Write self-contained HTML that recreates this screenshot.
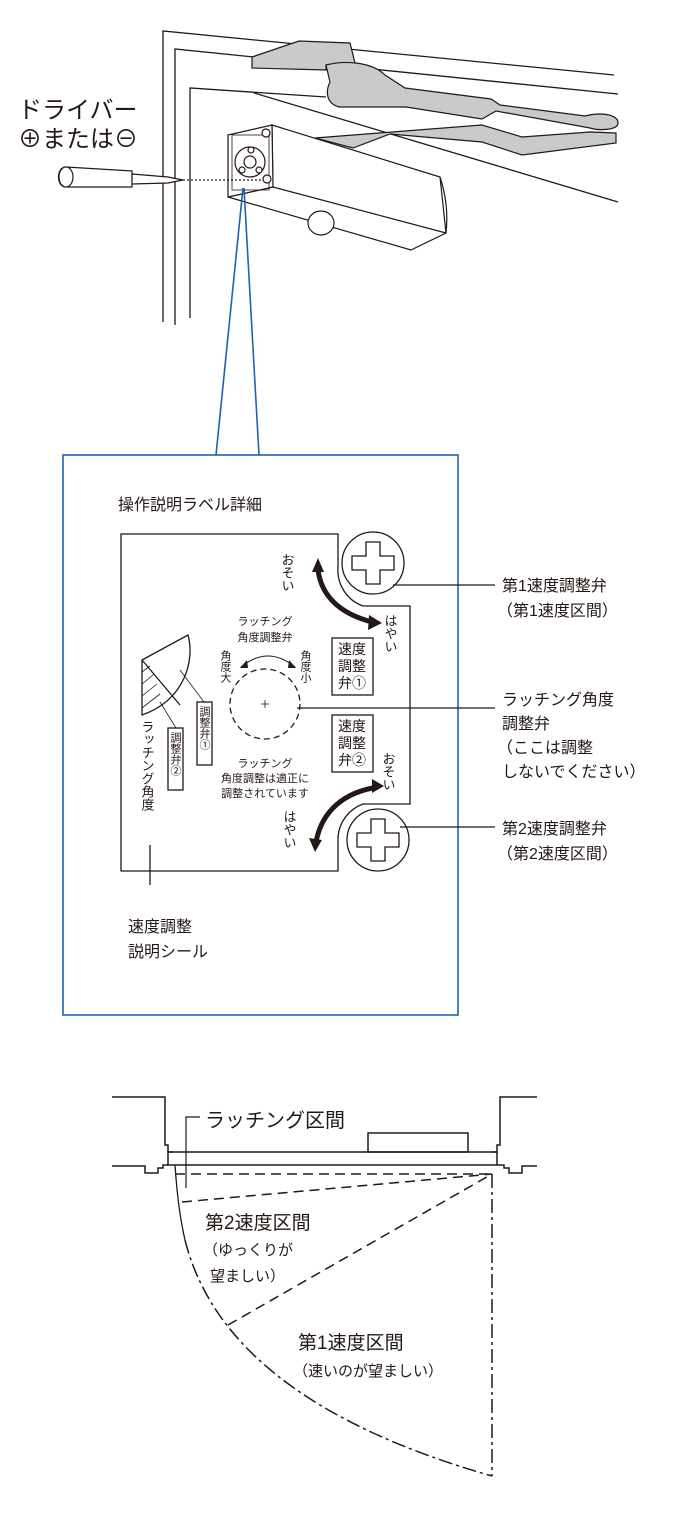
<!DOCTYPE html>
<html><head><meta charset="utf-8"><style>
html,body{margin:0;padding:0;background:#fff}
svg{display:block}
text{font-family:"Liberation Sans","Noto Sans CJK JP",sans-serif;fill:#231815}
</style></head><body>
<svg width="700" height="1529" viewBox="0 0 700 1529" xmlns="http://www.w3.org/2000/svg">
<g fill="none" stroke="#231815" stroke-width="1.3">
<!-- frame -->
<polyline points="163,322 163,31 614,75"/>
<polyline points="175,325 175,49 618,94"/>
<polyline points="190,318 190,88 326,97"/>
<line x1="254" y1="93" x2="618" y2="202"/>
</g>
<!-- arms -->
<g fill="#c9cacb" stroke="#231815" stroke-width="1.2">
<polygon points="252,57 299,41 350,43 355,63 326,65 326,70 252,68"/>
<path d="M326,65 C345,60 372,62 385,75 L405,88 L491,99 L500,105 L585,116 C600,112 618,114 618,123 C618,130 600,131 590,128 L496,111 L482,119 L406,107 L339,107 C325,103 326,90 330,82 Z"/>
<path d="M315,138 L482,125 L522,137 L590,132 L616,133 L616,143 L522,155 L482,142 L390,134 L353,148 Z"/>
</g>
<!-- closer body -->
<g fill="#fff" stroke="#231815" stroke-width="1.2">
<polygon points="272,125 440,177 446,233 411,250 228,197 273,187"/>
<path d="M440,177 C446,195 448,215 446,233" fill="none"/>
<line x1="273" y1="187" x2="446" y2="233"/>
<polygon points="228,135 272,125 273,187 228,197"/>
<rect x="232" y="135" width="37" height="55" fill="none" stroke-width="0.8"/>
<circle cx="250" cy="162" r="15"/>
<circle cx="250" cy="162" r="6"/>
<circle cx="251" cy="150" r="3"/><circle cx="242" cy="170" r="3"/><circle cx="259" cy="170" r="3"/>
<circle cx="266" cy="133" r="4"/><circle cx="267" cy="179" r="4"/>
<ellipse cx="321" cy="223" rx="13" ry="12"/>
</g>
<!-- screwdriver -->
<g fill="#fff" stroke="#231815" stroke-width="1.2">
<path d="M66,167 L132,171 L132,187 L66,187 C56,187 56,167 66,167 Z"/>
<ellipse cx="66" cy="177" rx="7" ry="10"/>
<polygon points="132,174 168,177 183,180 168,183 132,184"/>
</g>
<line x1="183" y1="180" x2="263" y2="180" stroke="#231815" stroke-width="1.2" stroke-dasharray="2,2"/>
<text x="18" y="118" font-size="24">ドライバー</text>
<text x="18" y="147" font-size="24">⊕または⊖</text>
<!-- blue -->
<g stroke="#1f62b3" stroke-width="1.6" fill="none">
<line x1="243" y1="188" x2="216" y2="455"/>
<line x1="244" y1="188" x2="259" y2="455"/>
<rect x="63" y="455" width="395" height="560"/>
</g>
<text x="118" y="510" font-size="16">操作説明ラベル詳細</text>
<!-- label -->
<g fill="none" stroke="#231815" stroke-width="1.3">
<path d="M121,534 L338,534 L338,567 A38,38 0 0 0 363,606 L410,606 L410,804 L363,804 A38,38 0 0 0 338,837 L338,871 L121,871 Z"/>
<circle cx="373" cy="563" r="31"/>
<path d="M366,542 h14 v14 h14 v14 h-14 v14 h-14 v-14 h-14 v-14 h14 Z"/>
<circle cx="378" cy="840" r="31"/>
<path d="M371,819 h14 v14 h14 v14 h-14 v14 h-14 v-14 h-14 v-14 h14 Z"/>
<line x1="393" y1="585" x2="495" y2="585"/>
<line x1="297" y1="708" x2="495" y2="708"/>
<line x1="400" y1="827" x2="495" y2="827"/>
<line x1="150" y1="845" x2="150" y2="885"/>
<rect x="332" y="638" width="41" height="57"/>
<rect x="332" y="715" width="41" height="57"/>
<circle cx="265" cy="704" r="35" stroke-dasharray="6,4"/>
<path d="M261,704 h8 M265,700 v8" stroke-width="0.8"/>
<path d="M241,667 Q268,645 295,667" stroke-width="1"/>
<rect x="197" y="702" width="15" height="63"/>
<rect x="168" y="728" width="15" height="62"/>
<path d="M142,660 L188,635 C195,660 185,700 142,715 Z"/>
<line x1="142" y1="660" x2="180" y2="705"/>
<line x1="180" y1="670" x2="204" y2="702" stroke-width="0.8"/>
<line x1="160" y1="702" x2="176" y2="728" stroke-width="0.8"/>
<path d="M142,672 l8,-6 M142,684 l12,-10 M142,696 l15,-12 M142,708 l18,-14" stroke-width="0.8"/>
</g>
<!-- thick arrows -->
<g fill="none" stroke="#231815" stroke-width="5">
<path d="M318,570 C322,600 345,615 372,622"/>
<path d="M378,787 C345,792 322,810 316,842"/>
</g>
<g fill="#231815">
<polygon points="318,558 312,572 324,572"/>
<polygon points="382,623 369,615 368,630"/>
<polygon points="315,852 309,838 322,840"/>
<polygon points="384,786 372,779 372,793"/>
<polygon points="240,668 247,660 248,668"/>
<polygon points="296,668 289,660 288,668"/>
</g>
<g font-size="13">
<text x="287" y="553" writing-mode="tb">おそい</text>
<text x="390" y="614" writing-mode="tb">はやい</text>
<text x="388" y="752" writing-mode="tb">おそい</text>
<text x="289" y="810" writing-mode="tb">はやい</text>
</g>
<g font-size="14" text-anchor="middle">
<text x="352" y="654">速度</text><text x="352" y="671">調整</text><text x="352" y="688">弁①</text>
<text x="352" y="731">速度</text><text x="352" y="748">調整</text><text x="352" y="765">弁②</text>
</g>
<g font-size="11" text-anchor="middle">
<text x="265" y="625">ラッチング</text>
<text x="265" y="641">角度調整弁</text>
<text x="265" y="767">ラッチング</text>
<text x="265" y="782">角度調整は適正に</text>
<text x="265" y="797">調整されています</text>
</g>
<g font-size="11">
<text x="225" y="650" writing-mode="tb">角度大</text>
<text x="305" y="650" writing-mode="tb">角度小</text>
<text x="204" y="706" writing-mode="tb">調整弁①</text>
<text x="175" y="732" writing-mode="tb">調整弁②</text>
</g>
<text x="147" y="720" font-size="13" writing-mode="tb">ラッチング角度</text>
<g font-size="16">
<text x="502" y="591">第1速度調整弁</text>
<text x="497" y="616">（第1速度区間）</text>
<text x="502" y="705">ラッチング角度</text>
<text x="502" y="729">調整弁</text>
<text x="497" y="753">（ここは調整</text>
<text x="502" y="777">しないでください）</text>
<text x="502" y="834">第2速度調整弁</text>
<text x="497" y="859">（第2速度区間）</text>
<text x="128" y="932">速度調整</text>
<text x="128" y="957">説明シール</text>
</g>
<!-- bottom diagram -->
<g fill="none" stroke="#231815" stroke-width="1.5">
<polyline points="112,1097 165,1097 165,1145 168,1145 168,1152 173,1152"/>
<polyline points="112,1166 145,1166 145,1173 158,1173 158,1168 163,1168 163,1165 168,1165"/>
<polyline points="537,1097 500,1097 500,1145 497,1145 497,1152 492,1152"/>
<polyline points="537,1166 522,1166 522,1173 509,1173 509,1168 504,1168 504,1165 497,1165"/>
<rect x="168" y="1152" width="329" height="13"/>
<rect x="368" y="1133" width="100" height="19"/>
<polyline points="200,1117 186,1117 186,1188" stroke-width="1.2"/>
<line x1="175" y1="1174" x2="492" y2="1174" stroke-dasharray="10,6"/>
<line x1="182" y1="1202" x2="492" y2="1174" stroke-dasharray="10,6"/>
<line x1="228" y1="1325" x2="492" y2="1174" stroke-dasharray="10,6"/>
<line x1="492" y1="1174" x2="492" y2="1476" stroke-dasharray="14,4,3,4"/>
<path d="M175,1165 Q178,1210 185,1240" stroke-width="1.3"/>
<path d="M185,1240 Q225,1400 492,1476" stroke-dasharray="14,4,3,4"/>
</g>
<text x="205" y="1127" font-size="20">ラッチング区間</text>
<text x="205" y="1229" font-size="19">第2速度区間</text>
<text x="203" y="1255" font-size="15">（ゆっくりが</text>
<text x="210" y="1281" font-size="15">望ましい）</text>
<text x="298" y="1349" font-size="19">第1速度区間</text>
<text x="293" y="1376" font-size="15">（速いのが望ましい）</text>
</svg>
</body></html>
